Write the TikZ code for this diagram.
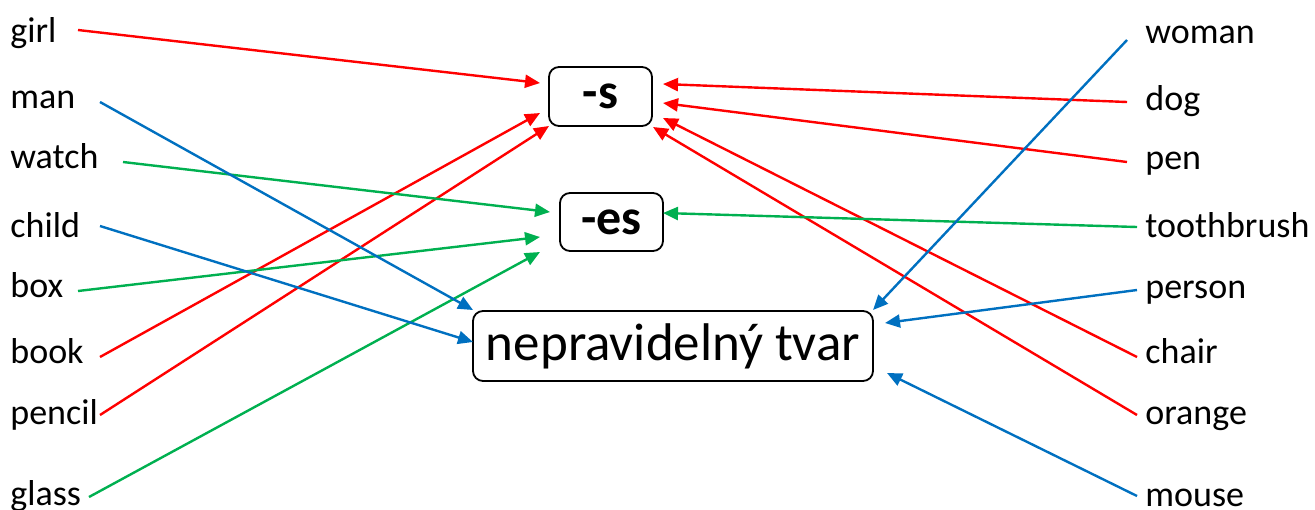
\documentclass[tikz,border=0pt]{standalone}
\usepackage{fontspec}
\setmainfont{Carlito}
\usetikzlibrary{arrows.meta}
\definecolor{cred}{HTML}{FF0000}
\definecolor{cgreen}{HTML}{00B050}
\definecolor{cblue}{HTML}{0070C0}
\tikzset{
  word/.style={anchor=base west, inner sep=0pt, font=\fontsize{18pt}{20pt}\selectfont},
  catbox/.style={draw, line width=0.9pt, rounded corners=5pt, inner sep=0pt},
  conn/.style={line width=1.2pt, -{Triangle[length=7.5pt,width=6.5pt]}},
  rconn/.style={conn, cred},
  gconn/.style={conn, cgreen},
  bconn/.style={conn, cblue}
}
\begin{document}
\begin{tikzpicture}[x=0.5pt,y=-0.5pt]
\useasboundingbox (0,0) rectangle (1315,509);
% left words
\node[word] (girl) at (10,42) {girl};
\node[word] (man) at (10,108) {man};
\node[word] (watch) at (10,168) {watch};
\node[word] (child) at (10,237) {child};
\node[word] (box) at (10,297) {box};
\node[word] (book) at (10,363) {book};
\node[word] (pencil) at (10,424) {pencil};
\node[word] (glass) at (10,505) {glass};
% right words
\node[word] (woman) at (1145,43) {woman};
\node[word] (dog) at (1145,110) {dog};
\node[word] (pen) at (1145,169) {pen};
\node[word] (toothbrush) at (1145,237) {toothbrush};
\node[word] (person) at (1145,298) {person};
\node[word] (chair) at (1145,363) {chair};
\node[word] (orange) at (1145,424) {orange};
\node[word] (mouse) at (1145,506) {mouse};
% category boxes
\node[catbox, minimum width=51.5pt, minimum height=29.5pt, font=\fontsize{25pt}{27pt}\selectfont\bfseries] (s) at (600.5,96.5) {-s};
\node[catbox, minimum width=51.5pt, minimum height=29pt, font=\fontsize{25pt}{27pt}\selectfont\bfseries] (es) at (611.5,222) {-es};
\node[catbox, minimum width=200pt, minimum height=35pt, font=\fontsize{26.5pt}{28pt}\selectfont] (irr) at (673,346) {nepravidelný tvar};
% connector ends
\coordinate (girl-o) at (78,30);   \coordinate (girl-i) at (540,83);
\coordinate (book-o) at (100,357); \coordinate (book-i) at (540,113);
\coordinate (pencil-o) at (100,415); \coordinate (pencil-i) at (549,126);
\coordinate (dog-o) at (1127,102); \coordinate (dog-i) at (663,84);
\coordinate (pen-o) at (1127,162); \coordinate (pen-i) at (663,103);
\coordinate (chair-o) at (1137,357); \coordinate (chair-i) at (663,118);
\coordinate (orange-o) at (1137,415); \coordinate (orange-i) at (653,127);
\coordinate (watch-o) at (123,162); \coordinate (watch-i) at (550,212);
\coordinate (box-o) at (78,291); \coordinate (box-i) at (540,237);
\coordinate (glass-o) at (89,497); \coordinate (glass-i) at (540,252);
\coordinate (tooth-o) at (1137,227); \coordinate (tooth-i) at (663,213);
\coordinate (man-o) at (100,102); \coordinate (man-i) at (473,310);
\coordinate (child-o) at (100,226); \coordinate (child-i) at (473,342);
\coordinate (woman-o) at (1127,40); \coordinate (woman-i) at (873,310);
\coordinate (person-o) at (1137,290); \coordinate (person-i) at (885,323);
\coordinate (mouse-o) at (1137,496); \coordinate (mouse-i) at (887,373);
% connectors
\draw[rconn] (girl-o) -- (girl-i);
\draw[rconn] (book-o) -- (book-i);
\draw[rconn] (pencil-o) -- (pencil-i);
\draw[rconn] (dog-o) -- (dog-i);
\draw[rconn] (pen-o) -- (pen-i);
\draw[rconn] (chair-o) -- (chair-i);
\draw[rconn] (orange-o) -- (orange-i);
\draw[gconn] (watch-o) -- (watch-i);
\draw[gconn] (box-o) -- (box-i);
\draw[gconn] (glass-o) -- (glass-i);
\draw[gconn] (tooth-o) -- (tooth-i);
\draw[bconn] (man-o) -- (man-i);
\draw[bconn] (child-o) -- (child-i);
\draw[bconn] (woman-o) -- (woman-i);
\draw[bconn] (person-o) -- (person-i);
\draw[bconn] (mouse-o) -- (mouse-i);
\end{tikzpicture}
\end{document}
